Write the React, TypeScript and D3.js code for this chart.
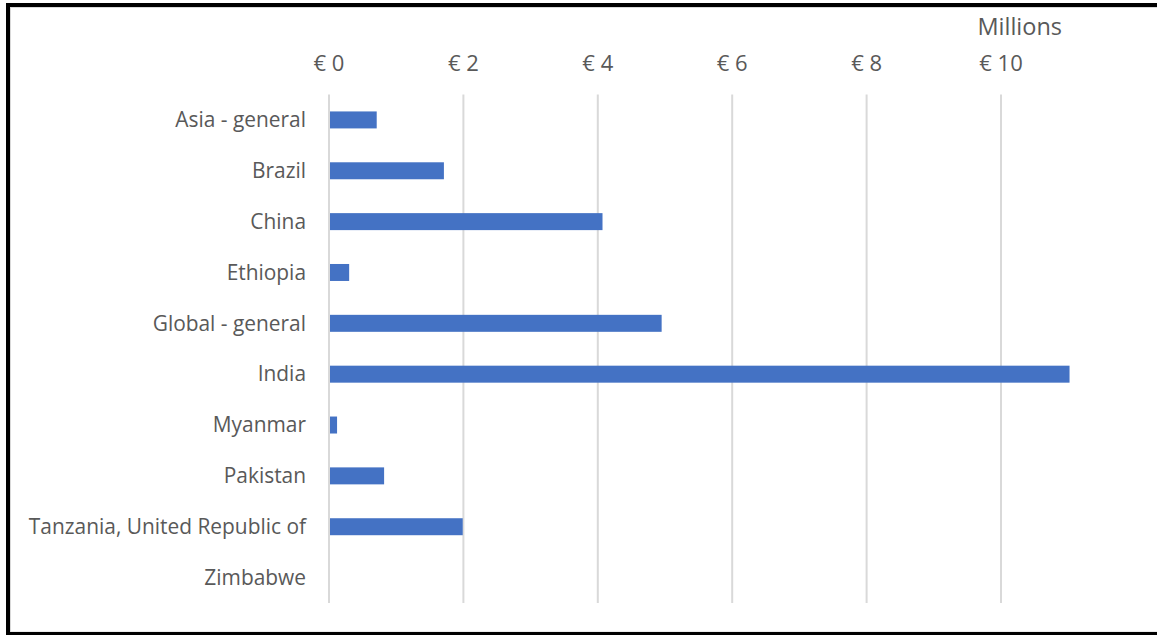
import React from "react";
import * as d3 from "d3";

const categories = [
  "Asia - general",
  "Brazil",
  "China",
  "Ethiopia",
  "Global - general",
  "India",
  "Myanmar",
  "Pakistan",
  "Tanzania, United Republic of",
  "Zimbabwe",
];
const values = [0.71, 1.71, 4.07, 0.3, 4.95, 11.02, 0.12, 0.82, 1.99, 0];
const ticks = [0, 2, 4, 6, 8, 10];
const unitLabel = "Millions";

const W = 1157;
const H = 635;
const FONT = "'Open Sans', sans-serif";

export default function App() {
  const x = d3.scaleLinear().domain([0, 10]).range([329, 1001]);
  const y = d3
    .scaleBand<string>()
    .domain(categories)
    .range([94.5, 603])
    .paddingInner(0.666)
    .paddingOuter(0.333);

  return (
    <svg
      width={W}
      height={H}
      style={{ position: "absolute", left: 0, top: 0, background: "#fff" }}
    >
      <rect x={0} y={0} width={W} height={H} fill="#fff" />
      {/* frame */}
      <rect x={10.5} y={7.5} width={W} height={624.5} fill="none" stroke="#d9d9d9" strokeWidth={1} />
      <rect x={8} y={5} width={W + 10} height={629} fill="none" stroke="#000" strokeWidth={4} />

      {/* gridlines */}
      {ticks.map((t) => (
        <line
          key={"g" + t}
          x1={x(t)}
          x2={x(t)}
          y1={94.5}
          y2={603}
          stroke="#d9d9d9"
          strokeWidth={2}
        />
      ))}

      {/* tick labels */}
      {ticks.map((t) => (
        <text
          key={"t" + t}
          x={x(t)}
          y={63}
          dy="0.35em"
          textAnchor="middle"
          fontFamily={FONT}
          fontSize={22}
          fill="#595959"
        >
          {"€ " + t}
        </text>
      ))}
      <text x={1062} y={27} dy="0.35em" textAnchor="end" fontFamily={FONT} fontSize={23.5} fill="#595959">
        {unitLabel}
      </text>

      {/* bars */}
      {categories.map((c, i) => (
        <rect
          key={"b" + c}
          x={x(0) + 1}
          y={y(c)!}
          width={Math.max(0, x(values[i]) - x(0) - 1)}
          height={y.bandwidth()}
          fill="#4472c4"
        />
      ))}

      {/* category labels */}
      {categories.map((c) => (
        <text
          key={"l" + c}
          x={306}
          y={y(c)! + y.bandwidth() / 2}
          dy="0.35em"
          textAnchor="end"
          fontFamily={FONT}
          fontSize={20.9}
          fill="#595959"
        >
          {c}
        </text>
      ))}
    </svg>
  );
}
